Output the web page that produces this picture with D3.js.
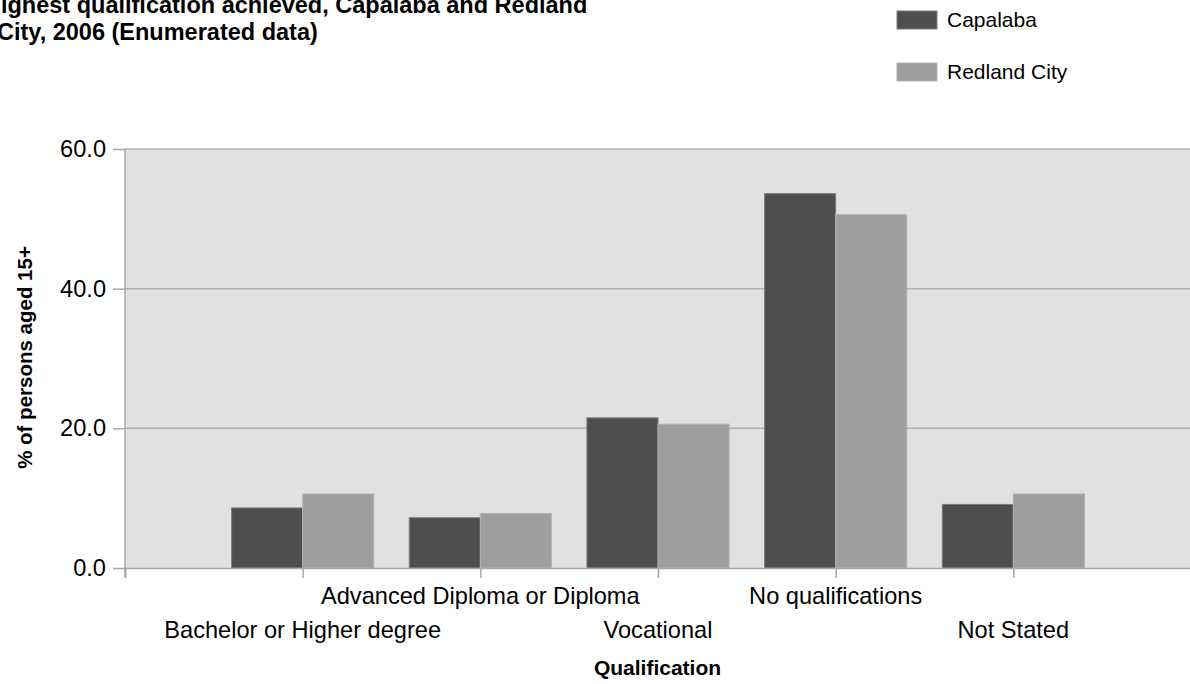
<!doctype html>
<html lang="en">

<head>
    <meta charset="UTF-8" />
    <script src="https://d3js.org/d3.v7.min.js"></script>
    <title>Highest qualification achieved</title>
    <style>
        body { margin: 0; background: #fff; }
        text { font-family: "Liberation Sans", Arial, sans-serif; fill: #000; }
    </style>
</head>

<body>
    <div id="chart"></div>
    <script type="module">
        // Data
        const categories = [
            "Bachelor or Higher degree",
            "Advanced Diploma or Diploma",
            "Vocational",
            "No qualifications",
            "Not Stated"
        ]
        const seriesNames = ["Capalaba", "Redland City"]
        const capalaba = [8.6, 7.2, 21.5, 53.6, 9.1]
        const redland = [10.6, 7.8, 20.6, 50.6, 10.6]
        const yTicks = [0, 20, 40, 60]

        const WIDTH = 1190
        const HEIGHT = 684
        const margin = { top: 149, right: -1, bottom: 116, left: 125 }
        const width = WIDTH - margin.left - margin.right
        const height = HEIGHT - margin.top - margin.bottom

        const colors = { "Capalaba": "#4e4e4e", "Redland City": "#9e9e9e" }
        const strokes = { "Capalaba": "#7c7c7c", "Redland City": "#b2b2b2" }

        // categories sit on whole positions 1..5 of a 0..6 axis
        const x = d3.scaleLinear().domain([0, categories.length + 1]).range([0, width])
        const y = d3.scaleLinear().domain([0, 60]).range([height, 0])
        const step = x(1) - x(0)
        const inner = d3.scaleBand().domain(seriesNames).range([-step * 0.4, step * 0.4])

        const svg = d3.select("#chart")
            .append("svg")
            .attr("width", WIDTH)
            .attr("height", HEIGHT)

        const g = svg.append("g")
            .attr("transform", `translate(${margin.left}, ${margin.top})`)

        // plot background
        g.append("rect")
            .attr("width", width + 10)
            .attr("height", height)
            .attr("fill", "#e1e1e1")

        // gridlines
        g.selectAll(".grid")
            .data(yTicks.filter(d => d > 0))
            .enter()
            .append("line")
            .attr("x1", 0)
            .attr("x2", width + 10)
            .attr("y1", d => y(d))
            .attr("y2", d => y(d))
            .attr("stroke", "#b0b0b0")
            .attr("stroke-width", 1.5)

        // bars
        const rows = categories.map((c, i) => ({ cat: c, i, values: [capalaba[i], redland[i]] }))
        const groups = g.selectAll(".grp")
            .data(rows)
            .enter()
            .append("g")
            .attr("transform", d => `translate(${x(d.i + 1)}, 0)`)

        groups.selectAll("rect")
            .data(d => seriesNames.map((s, k) => ({ s, v: d.values[k] })))
            .enter()
            .append("rect")
            .attr("x", d => inner(d.s))
            .attr("y", d => y(d.v))
            .attr("width", inner.bandwidth())
            .attr("height", d => height - y(d.v))
            .attr("fill", d => colors[d.s])
            .attr("stroke", d => strokes[d.s])
            .attr("stroke-width", 1)

        // x axis
        const xAxis = g.append("g")
            .attr("transform", `translate(0, ${height})`)
            .call(d3.axisBottom(x)
                .tickValues(d3.range(0, categories.length + 1))
                .tickSize(10)
                .tickFormat(""))
        xAxis.select(".domain").attr("stroke", "#a8a8a8").attr("stroke-width", 1.5)
        xAxis.selectAll(".tick line").attr("stroke", "#a8a8a8").attr("stroke-width", 1.5)

        // staggered category labels
        g.append("g")
            .selectAll("text")
            .data(rows)
            .enter()
            .append("text")
            .attr("x", d => x(d.i + 1))
            .attr("y", d => height + (d.i % 2 === 0 ? 70 : 36))
            .attr("text-anchor", "middle")
            .attr("font-size", "23.6px")
            .attr("fill", "#111")
            .text(d => d.cat)

        // y axis
        const yAxis = g.append("g")
            .call(d3.axisLeft(y)
                .tickValues(yTicks)
                .tickSize(12)
                .tickPadding(7)
                .tickFormat(d3.format(".1f")))
        yAxis.select(".domain").attr("stroke", "#a8a8a8").attr("stroke-width", 1.5)
            .attr("d", `M0,0V${height + 10}`)
        yAxis.selectAll(".tick line").attr("stroke", "#a8a8a8").attr("stroke-width", 1.5)
        yAxis.selectAll(".tick text")
            .attr("font-size", "23.6px")
            .attr("font-family", "Liberation Sans, Arial, sans-serif")
            .attr("fill", "#111")

        // axis titles
        g.append("text")
            .attr("transform", "rotate(-90)")
            .attr("x", -height / 2 + 1)
            .attr("y", -margin.left + 32)
            .attr("text-anchor", "middle")
            .attr("font-size", "20.5px")
            .attr("font-weight", "bold")
            .text("% of persons aged 15+")

        g.append("text")
            .attr("x", (0 + WIDTH - margin.left) / 2)
            .attr("y", height + 107)
            .attr("text-anchor", "middle")
            .attr("font-size", "21px")
            .attr("font-weight", "bold")
            .text("Qualification")

        // title (cut off at the top left, as in the source)
        const title = svg.append("text")
            .attr("y", 13)
            .attr("font-size", "23.5px")
            .attr("font-weight", "bold")
        title.append("tspan").attr("x", -16).text("Highest qualification achieved, Capalaba and Redland")
        title.append("tspan").attr("x", -3).attr("dy", 27).text("City, 2006 (Enumerated data)")

        // legend
        const legend = svg.append("g")
            .attr("transform", "translate(897, 11)")
            .selectAll("g")
            .data(seriesNames)
            .enter()
            .append("g")
            .attr("transform", (d, i) => `translate(0, ${i * 52})`)
        legend.append("rect")
            .attr("width", 40)
            .attr("height", 18)
            .attr("fill", d => colors[d])
            .attr("stroke", d => strokes[d])
        legend.append("text")
            .attr("x", 50)
            .attr("y", 16)
            .attr("font-size", "21px")
            .attr("fill", "#111")
            .text(d => d)
    </script>
</body>

</html>
